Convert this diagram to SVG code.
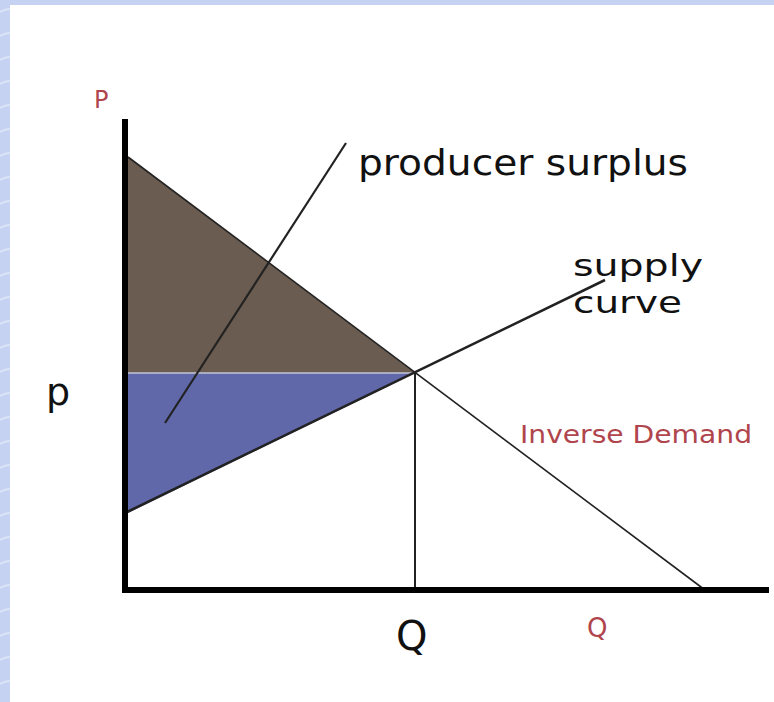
<svg xmlns="http://www.w3.org/2000/svg" width="774" height="702" viewBox="0 0 774 702">
  <defs>
    <style>
      .lbl { font-family: "DejaVu Sans", "Liberation Sans", sans-serif; fill: #111; }
      .red { font-family: "DejaVu Sans", "Liberation Sans", sans-serif; fill: #b0454d; }
      .axis { stroke: #000; stroke-width: 6; stroke-linecap: butt; fill: none; }
      .thin { stroke: #222; fill: none; }
    </style>
    <pattern id="ripple" width="40" height="24" patternUnits="userSpaceOnUse">
      <rect width="40" height="24" fill="#c5d2f1"/>
      <path d="M0 12 Q10 6 20 12 T40 12" stroke="#dbe4f8" stroke-width="2" fill="none"/>
    </pattern>
  </defs>

  <g id="background">
    <rect x="0" y="0" width="774" height="702" fill="url(#ripple)"/>
    <rect x="10" y="5" width="764" height="697" fill="#ffffff"/>
  </g>

  <g id="areas">
    <polygon id="consumer-area" points="128,157 415,373 128,373" fill="#6a5c50"/>
    <polygon id="producer-area" points="128,373 415,373 128,513" fill="#6068aa"/>
  </g>

  <g id="connectors">
    <line id="price-line" x1="128" y1="373" x2="415" y2="373" stroke="#c4c6d4" stroke-width="1.5"/>
    <line id="demand" class="thin" x1="128" y1="157" x2="705" y2="590" stroke-width="1.6"/>
    <line id="supply" class="thin" x1="125" y1="513" x2="605" y2="280" stroke-width="2.6" stroke="#111"/>
    <line id="q-line" class="thin" x1="415" y1="373" x2="415" y2="588" stroke-width="2" stroke="#333"/>
    <line id="ps-pointer" class="thin" x1="165" y1="423" x2="346" y2="143" stroke-width="2.2" stroke="#111"/>
  </g>

  <g id="axes">
    <line id="y-axis" class="axis" x1="125" y1="119" x2="125" y2="593"/>
    <line id="x-axis" class="axis" x1="122" y1="590" x2="769" y2="590"/>
  </g>

  <g id="label-P"><text class="red" x="94" y="108" font-size="24">P</text></g>
  <g id="label-p"><text class="lbl" x="46" y="405" font-size="38">p</text></g>
  <g id="label-Q"><text class="lbl" x="396" y="650" font-size="40">Q</text></g>
  <g id="label-Q-axis"><text class="red" x="587" y="637" font-size="26">Q</text></g>
  <g id="label-producer-surplus"><text class="lbl" x="358" y="175" font-size="35" textLength="330" lengthAdjust="spacingAndGlyphs">producer surplus</text></g>
  <g id="label-supply-curve">
    <text class="lbl" x="573" y="276" font-size="31" textLength="130" lengthAdjust="spacingAndGlyphs">supply</text>
    <text class="lbl" x="573" y="313" font-size="31" textLength="109" lengthAdjust="spacingAndGlyphs">curve</text>
  </g>
  <g id="label-inverse-demand"><text class="red" x="520" y="443" font-size="25" textLength="232" lengthAdjust="spacingAndGlyphs">Inverse Demand</text></g>
</svg>
